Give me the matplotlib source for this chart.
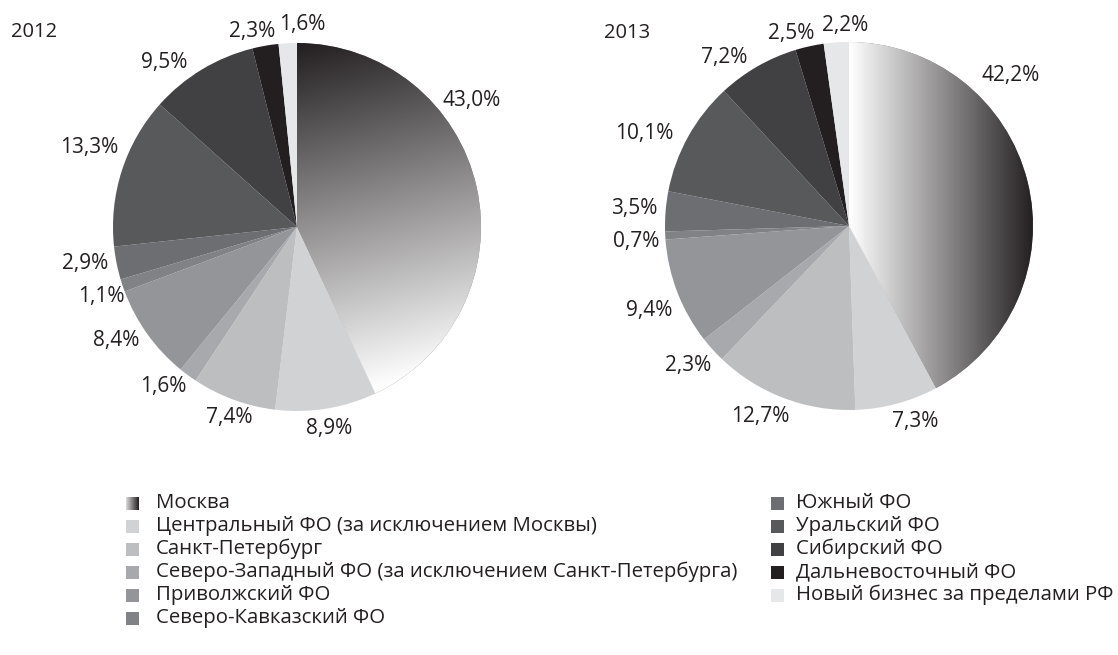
import numpy as np
import matplotlib
matplotlib.use("Agg")
import matplotlib.pyplot as plt
from matplotlib.colors import LinearSegmentedColormap
from matplotlib.patches import Rectangle

# ---------------- data ----------------
regions = [
    "Москва",
    "Центральный ФО (за исключением Москвы)",
    "Санкт-Петербург",
    "Северо-Западный ФО (за исключением Санкт-Петербурга)",
    "Приволжский ФО",
    "Северо-Кавказский ФО",
    "Южный ФО",
    "Уральский ФО",
    "Сибирский ФО",
    "Дальневосточный ФО",
    "Новый бизнес за пределами РФ",
]
shares_2012 = [43.0, 8.9, 7.4, 1.6, 8.4, 1.1, 2.9, 13.3, 9.5, 2.3, 1.6]
shares_2013 = [42.2, 7.3, 12.7, 2.3, 9.4, 0.7, 3.5, 10.1, 7.2, 2.5, 2.2]
years = ["2012", "2013"]

# ---------------- style / layout ----------------
colors = ["#808080", "#d1d2d4", "#bcbec0", "#a7a9ac", "#939598", "#808285",
          "#6d6e71", "#58595b", "#414042", "#231f20", "#e6e7e8"]
# label placement: angle offset from wedge middle (deg, clockwise) and radial distance
label_shift_2012 = [-23.4, 0, -0.6, 3.5, 3.6, -1.0, 1.5, 3.1, -7.7, -3.1, 4.3]
label_dist_2012 = [1.17, 1.11, 1.10, 1.13, 1.16, 1.13, 1.17, 1.21, 1.15, 1.09, 1.10]
label_shift_2013 = [-29.0, -3.6, 4.2, 1.2, -1.9, -1.1, 0, -4.7, -6.8, -4.2, 2.9]
label_dist_2013 = [1.20, 1.12, 1.14, 1.16, 1.18, 1.16, 1.17, 1.22, 1.14, 1.09, 1.09]

DARK = "#231f20"
FONT = ["Open Sans", "DejaVu Sans"]
plt.rcParams["font.family"] = FONT
TXT = "#231f20"

W, H = 1118, 655
fig = plt.figure(figsize=(W / 100, H / 100), dpi=100)

cmap_d2w = LinearSegmentedColormap.from_list("d2w", [DARK, "#ffffff"])
cmap_w2d = LinearSegmentedColormap.from_list("w2d", ["#ffffff", DARK])


def gradient_field(kind, n=500):
    xs = np.linspace(-1, 1, n)
    X, Y = np.meshgrid(xs, xs)
    if kind == "diag":
        p0 = np.array([0.0, 1.0])
        p1 = np.array([np.sin(np.radians(150)), np.cos(np.radians(150))])
        d = p1 - p0
        T = ((X - p0[0]) * d[0] + (Y - p0[1]) * d[1]) / (d @ d)
        return np.clip(T, 0, 1), cmap_d2w
    T = np.clip(X, 0, 1)
    return T, cmap_w2d


def add_pie(cx, cy, r, values, year, kind, year_xy, shifts, dists):
    L = 1.4
    ax = fig.add_axes([(cx - r * L) / W, (H - cy - r * L) / H,
                       2 * r * L / W, 2 * r * L / H])
    wedges, _ = ax.pie(values, colors=colors, startangle=90, counterclock=False,
                       radius=1, wedgeprops=dict(linewidth=0.3, edgecolor="none"))
    T, cm = gradient_field(kind)
    img = ax.imshow(T, cmap=cm, extent=(-1, 1, -1, 1), origin="lower",
                    vmin=0, vmax=1, interpolation="bilinear", zorder=3)
    img.set_clip_path(wedges[0])
    ax.set_xlim(-L, L)
    ax.set_ylim(-L, L)
    ax.set_aspect("equal")
    ax.axis("off")
    for w, v, s, dist in zip(wedges, values, shifts, dists):
        lab = f"{v:.1f}".replace(".", ",") + "%"
        ang = np.radians((w.theta1 + w.theta2) / 2 - s)
        ax.text(dist * np.cos(ang), dist * np.sin(ang), lab, ha="center",
                va="center", fontsize=15, color=TXT, clip_on=False)
    fig.text(year_xy[0] / W, 1 - year_xy[1] / H, year, ha="center", va="center",
             fontsize=14.5, color=TXT)
    return ax


add_pie(297, 227, 184, shares_2012, years[0], "diag", (34, 32),
        label_shift_2012, label_dist_2012)
add_pie(849, 226, 184, shares_2013, years[1], "horiz", (627, 33),
        label_shift_2013, label_dist_2013)

# ---------------- legend ----------------
col_x = [(126, 156), (771, 796)]
row_y0, row_dy = 503, 23
msz = 13
split = 6
for i, name in enumerate(regions):
    col = 0 if i < split else 1
    row = i if i < split else i - split
    mx, tx = col_x[col]
    y = row_y0 + row * row_dy
    if i == 0:
        lax = fig.add_axes([mx / W, 1 - (y + msz / 2) / H, msz / W, msz / H])
        g = np.tile(np.linspace(0, 1, 50), (50, 1))
        lax.imshow(g, cmap=cmap_w2d, aspect="auto", vmin=-0.2, vmax=1)
        lax.axis("off")
    else:
        fig.add_artist(Rectangle((mx / W, 1 - (y + msz / 2) / H), msz / W, msz / H,
                                 transform=fig.transFigure, facecolor=colors[i],
                                 edgecolor="none"))
    fig.text(tx / W, 1 - y / H, name, ha="left", va="center", fontsize=14.7,
             color=TXT)

fig.savefig("out.png", dpi=100, facecolor="white")
